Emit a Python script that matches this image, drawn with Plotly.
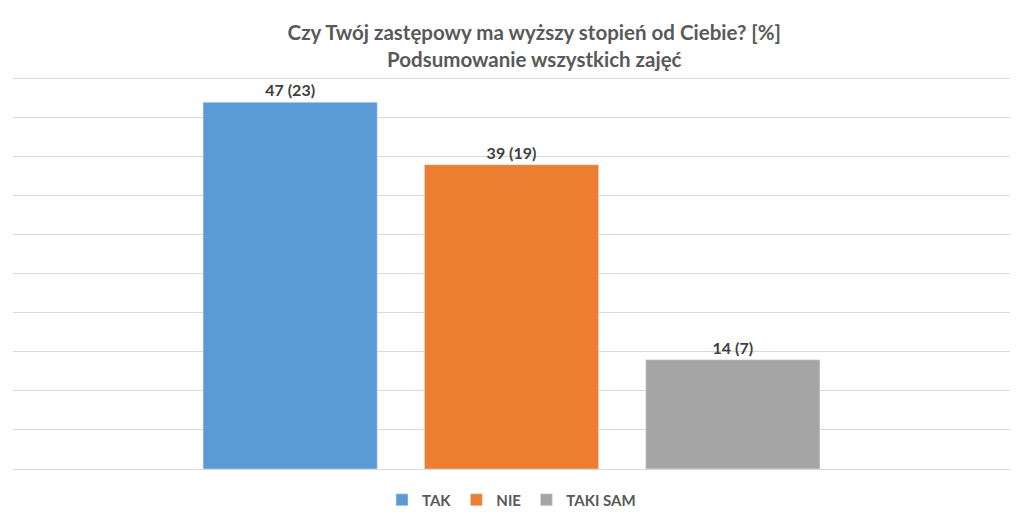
import plotly.graph_objects as go

series = ["TAK", "NIE", "TAKI SAM"]
percent = [47, 39, 14]
counts = [23, 19, 7]
colors = ["#5B9BD5", "#ED7D31", "#A5A5A5"]
category = ["Podsumowanie"]

fig = go.Figure()
for name, p, c, col in zip(series, percent, counts, colors):
    fig.add_trace(go.Bar(
        x=category, y=[p], name=name, marker_color=col,
        text=[f"{p} ({c})"], textposition="outside", cliponaxis=False,
        textfont=dict(family="Lato", size=16, color="#404040", weight="bold"),
    ))

fig.update_layout(
    width=1016, height=515,
    paper_bgcolor="white", plot_bgcolor="white",
    margin=dict(l=5, r=14, t=63, b=54, autoexpand=False),
    barmode="group", bargap=0.334, bargroupgap=0.213,
    title=dict(
        text="Czy Twój zastępowy ma wyższy stopień od Ciebie? [%]<br>Podsumowanie wszystkich zajęć",
        x=0.518, xanchor="center", y=0.938, yanchor="top",
        font=dict(family="Lato", size=20.5, color="#595959", weight="bold"),
    ),
    legend=dict(
        orientation="h", x=0.5, xanchor="center", y=-0.078, yanchor="middle",
        font=dict(family="Lato", size=15, color="#595959", weight="bold"),
        itemwidth=30, traceorder="normal",
    ),
    xaxis=dict(showticklabels=False, showgrid=False, zeroline=False,
               showline=True, linecolor="#D9D9D9", linewidth=1),
    yaxis=dict(range=[0, 51], tickvals=[0, 5, 10, 15, 20, 25, 30, 35, 40, 45, 50],
               showticklabels=False,
               showgrid=True, gridcolor="#D9D9D9", gridwidth=1, zeroline=False),
    showlegend=True,
)
fig.write_html("out.html")
